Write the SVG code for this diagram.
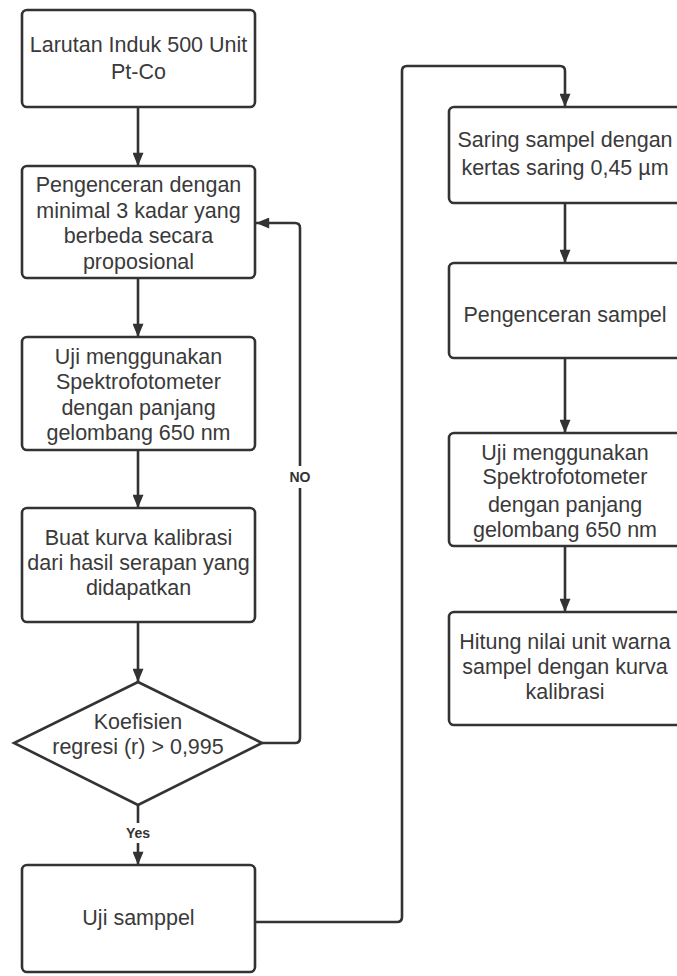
<svg xmlns="http://www.w3.org/2000/svg" width="677" height="976" viewBox="0 0 677 976">
<style>
.box{fill:#ffffff;stroke:#333333;stroke-width:2.6}
.t{font-family:"Liberation Sans",Arial,sans-serif;font-size:21.5px;fill:#3a3a3a;text-anchor:middle}
.lbl{font-family:"Liberation Sans",Arial,sans-serif;font-size:14px;font-weight:bold;fill:#333333;text-anchor:middle}
.c{fill:none;stroke:#333333;stroke-width:2.6;stroke-linejoin:round}
</style>
<defs>
<marker id="ahb" viewBox="0 0 12 10" refX="12" refY="5" markerWidth="14" markerHeight="11" markerUnits="userSpaceOnUse" orient="auto">
<path d="M0,0 L12,5 L0,10 z" fill="#333333"/>
</marker>
</defs>
<rect width="677" height="976" fill="#ffffff"/>
<g id="connectors">
<path class="c" d="M138,107 V166" marker-end="url(#ahb)"/>
<path class="c" d="M138,278 V337" marker-end="url(#ahb)"/>
<path class="c" d="M138,450 V508" marker-end="url(#ahb)"/>
<path class="c" d="M138,622 V682" marker-end="url(#ahb)"/>
<path class="c" d="M262,743 H295 Q300,743 300,738 V228 Q300,223 295,223 H256" marker-end="url(#ahb)"/>
<path class="c" d="M138,805 V865" marker-end="url(#ahb)"/>
<path class="c" d="M255,922 H397 Q402,922 402,917 V71 Q402,66 407,66 H560 Q565,66 565,71 V107" marker-end="url(#ahb)"/>
<path class="c" d="M565,203 V263" marker-end="url(#ahb)"/>
<path class="c" d="M565,358 V433" marker-end="url(#ahb)"/>
<path class="c" d="M565,546 V612" marker-end="url(#ahb)"/>
<rect x="286" y="466" width="28" height="22" fill="#ffffff"/>
<text class="lbl" x="300" y="482">NO</text>
<rect x="121" y="823" width="34" height="20" fill="#ffffff"/>
<text class="lbl" x="138" y="838">Yes</text>
</g>
<g id="n1">
<rect class="box" x="22" y="10" width="233" height="97" rx="5"/>
<text class="t" x="138.5" y="52">Larutan Induk 500 Unit</text>
<text class="t" x="138.5" y="79">Pt-Co</text>
</g>
<g id="n2">
<rect class="box" x="22" y="166" width="233" height="112" rx="5"/>
<text class="t" x="138.5" y="192">Pengenceran dengan</text>
<text class="t" x="138.5" y="218">minimal 3 kadar yang</text>
<text class="t" x="138.5" y="243">berbeda secara</text>
<text class="t" x="138.5" y="269">proposional</text>
</g>
<g id="n3">
<rect class="box" x="22" y="337" width="233" height="113" rx="5"/>
<text class="t" x="138.5" y="364">Uji menggunakan</text>
<text class="t" x="138.5" y="389">Spektrofotometer</text>
<text class="t" x="138.5" y="415">dengan panjang</text>
<text class="t" x="138.5" y="440">gelombang 650 nm</text>
</g>
<g id="n4">
<rect class="box" x="22" y="508" width="233" height="114" rx="5"/>
<text class="t" x="138.5" y="545">Buat kurva kalibrasi</text>
<text class="t" x="138.5" y="570">dari hasil serapan yang</text>
<text class="t" x="138.5" y="595">didapatkan</text>
</g>
<g id="n5">
<polygon class="box" points="138,682 262,743 138,805 14,743"/>
<text class="t" x="138" y="729">Koefisien</text>
<text class="t" x="138" y="754">regresi (r) &gt; 0,995</text>
</g>
<g id="n6">
<rect class="box" x="22" y="865" width="233" height="107" rx="5"/>
<text class="t" x="138.5" y="925">Uji samppel</text>
</g>
<g id="n7">
<rect class="box" x="449" y="107" width="233" height="96" rx="5"/>
<text class="t" x="565" y="147">Saring sampel dengan</text>
<text class="t" x="565" y="175">kertas saring 0,45 µm</text>
</g>
<g id="n8">
<rect class="box" x="449" y="263" width="233" height="95" rx="5"/>
<text class="t" x="565" y="322">Pengenceran sampel</text>
</g>
<g id="n9">
<rect class="box" x="449" y="433" width="233" height="113" rx="5"/>
<text class="t" x="565" y="460">Uji menggunakan</text>
<text class="t" x="565" y="484">Spektrofotometer</text>
<text class="t" x="565" y="512">dengan panjang</text>
<text class="t" x="565" y="537">gelombang 650 nm</text>
</g>
<g id="n10">
<rect class="box" x="449" y="612" width="233" height="113" rx="5"/>
<text class="t" x="565" y="649">Hitung nilai unit warna</text>
<text class="t" x="565" y="674">sampel dengan kurva</text>
<text class="t" x="565" y="699">kalibrasi</text>
</g>
</svg>
